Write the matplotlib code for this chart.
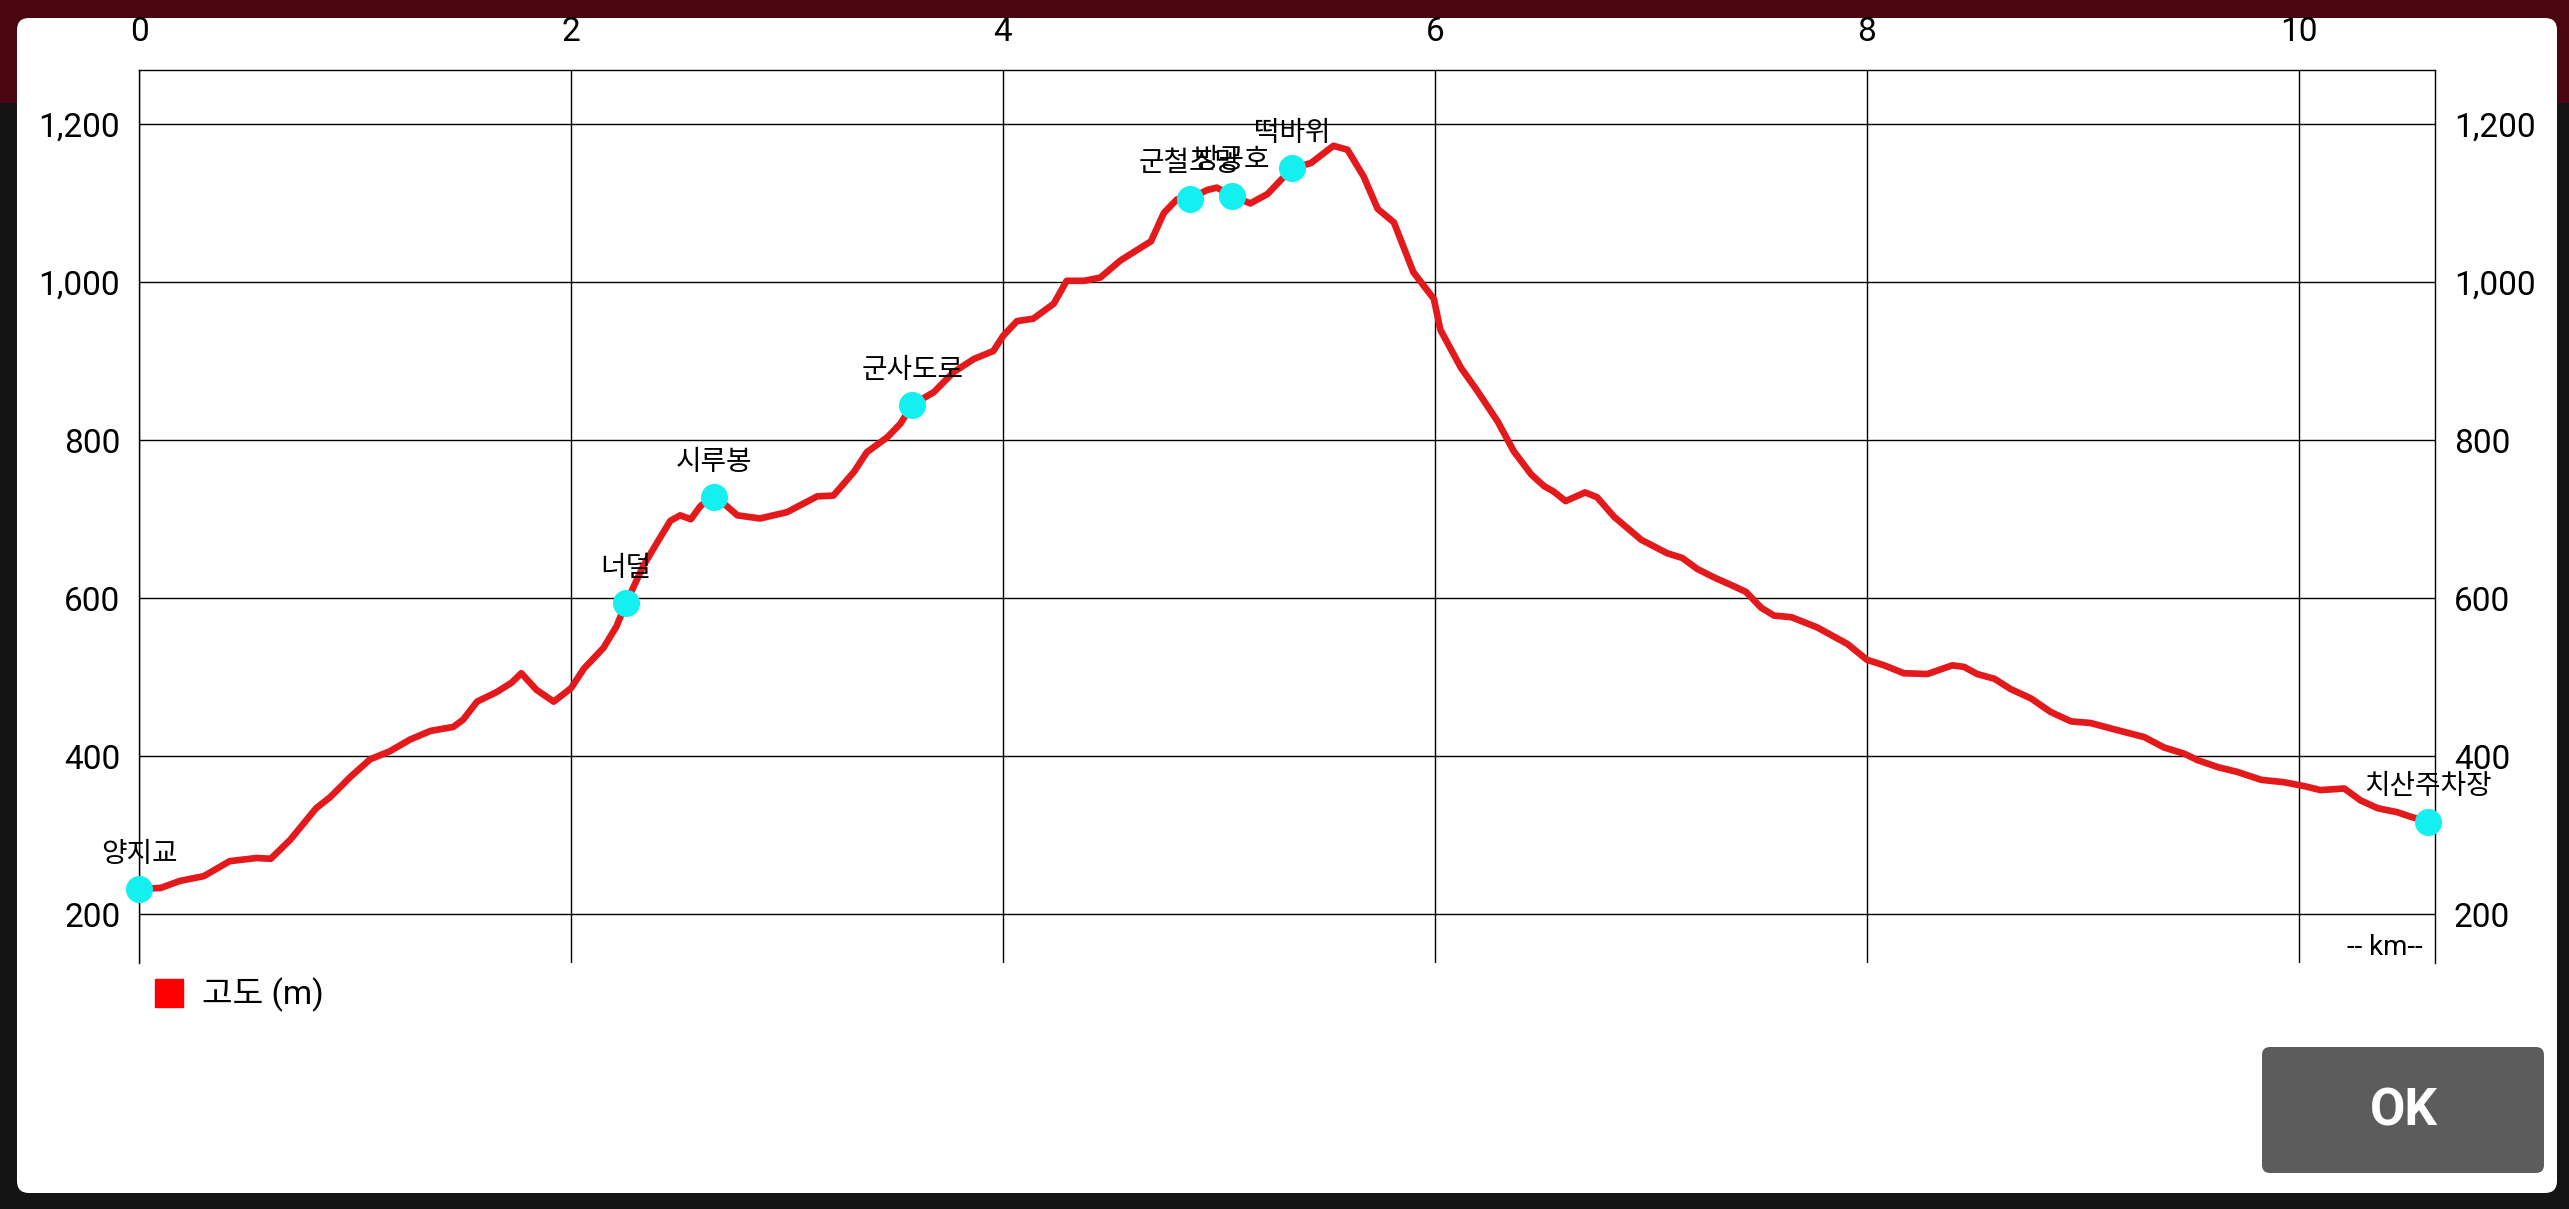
import matplotlib.pyplot as plt
from matplotlib.patches import FancyBboxPatch, Rectangle
from matplotlib.lines import Line2D
from matplotlib.transforms import IdentityTransform
from matplotlib.ticker import FuncFormatter

# elevation profile (distance in km, elevation in m)
km = [0, 0.10, 0.19, 0.30, 0.42, 0.545, 0.61, 0.70, 0.82, 0.885,
      0.98, 1.07, 1.16, 1.255, 1.35, 1.455, 1.50, 1.565, 1.655, 1.725,
      1.77, 1.84, 1.92, 2.00, 2.06, 2.15, 2.21, 2.255, 2.335, 2.40,
      2.46, 2.505, 2.555, 2.60, 2.66, 2.72, 2.77, 2.875, 3.00, 3.14,
      3.215, 3.31, 3.37, 3.465, 3.525, 3.58, 3.68, 3.77, 3.865, 3.955,
      4.00, 4.065, 4.14, 4.235, 4.295, 4.375, 4.45, 4.545, 4.685, 4.745,
      4.805, 4.865, 4.945, 4.99, 5.06, 5.145, 5.225, 5.34, 5.425, 5.53,
      5.595, 5.67, 5.735, 5.81, 5.90, 5.995, 6.025, 6.12, 6.195, 6.29,
      6.365, 6.445, 6.505, 6.55, 6.605, 6.695, 6.75, 6.83, 6.955, 7.075,
      7.145, 7.215, 7.295, 7.385, 7.44, 7.51, 7.57, 7.65, 7.77, 7.85,
      7.91, 8.00, 8.08, 8.17, 8.28, 8.395, 8.45, 8.51, 8.59, 8.665,
      8.76, 8.85, 8.945, 9.035, 9.13, 9.285, 9.375, 9.47, 9.53, 9.625,
      9.715, 9.825, 9.93, 10.025, 10.10, 10.21, 10.285, 10.365, 10.455, 10.52,
      10.597]
elev = [232, 233, 242, 248, 267, 271, 270, 294, 334, 348,
        374, 396, 406, 421, 432, 437, 446, 469, 481, 493,
        505, 484, 469, 486, 511, 537, 564, 594, 641, 671,
        698, 705, 700, 717, 728, 717, 705, 701, 709, 729,
        730, 760, 785, 804, 821, 845, 861, 886, 903, 913,
        932, 951, 954, 973, 1002, 1002, 1006, 1028, 1052, 1088,
        1105, 1106, 1117, 1120, 1110, 1100, 1112, 1145, 1151, 1173,
        1168, 1134, 1093, 1076, 1013, 979, 940, 892, 863, 824,
        786, 757, 742, 735, 723, 734, 728, 703, 674, 657,
        651, 637, 626, 615, 608, 588, 578, 576, 563, 551,
        542, 522, 515, 505, 504, 515, 513, 504, 498, 485,
        473, 456, 444, 442, 435, 424, 411, 403, 395, 386,
        380, 370, 367, 362, 357, 359, 344, 334, 329, 323,
        317]

# waypoints
wp_names = ['양지교', '너덜', '시루봉', '군사도로', '군철조망', '방공호', '떡바위', '치산주차장']
wp_km = [0, 2.255, 2.66, 3.58, 4.865, 5.06, 5.34, 10.597]
wp_elev = [232, 594, 728, 845, 1106, 1110, 1145, 317]

x_ticks = [0, 2, 4, 6, 8, 10]
y_ticks = [200, 400, 600, 800, 1000, 1200]

plt.rcParams['font.family'] = ['Roboto', 'Noto Sans CJK KR', 'DejaVu Sans']

W, H = 2569, 1209
fig = plt.figure(figsize=(W / 100, H / 100), dpi=100)
fig.patch.set_facecolor('#141414')
pix = IdentityTransform()


def box(x0, y0, x1, y1, color, r=0, z=-2):
    # rectangle in image pixel coords (y down)
    p = FancyBboxPatch((x0, H - y1), x1 - x0, y1 - y0,
                       boxstyle=f'round,pad=0,rounding_size={r}',
                       fc=color, ec='none', transform=pix, zorder=z)
    fig.add_artist(p)


# app background and dialog
fig.add_artist(Rectangle((0, H - 103), W, 103, fc='#4b0510', ec='none',
                         transform=pix, zorder=-3))
box(17, 18, 2557, 1193, 'white', r=12)

ax = fig.add_axes([139 / W, 1 - 963 / H, 2296 / W, 893 / H])
ax.plot(km, elev, color='#e3191c', lw=4.8, solid_joinstyle='round',
        solid_capstyle='round', zorder=3)
ax.plot(wp_km, wp_elev, 'o', ms=19.5, color='#14f0f0', mec='none',
        zorder=4, clip_on=False)
for name, x, y in zip(wp_names, wp_km, wp_elev):
    ax.annotate(name, (x, y), xytext=(0, 25), textcoords='offset points',
                ha='center', va='center', fontsize=20, zorder=5,
                annotation_clip=False)

ax.set_xlim(0, 10.63)
ax.set_ylim(138, 1269)
ax.set_xticks(x_ticks)
ax.set_yticks(y_ticks)
ax.yaxis.set_major_formatter(FuncFormatter(lambda v, p: f'{int(v):,}'))
ax.tick_params(axis='x', top=True, bottom=False, labeltop=True,
               labelbottom=False, length=0, pad=15.5, labelsize=24)
ax.tick_params(axis='y', left=True, right=True, labelleft=True,
               labelright=True, length=0, pad=13.5, labelsize=24)
ax.grid(True, color='black', lw=1.0)
ax.set_axisbelow(True)
for side in ['top', 'left', 'right']:
    ax.spines[side].set_color('black')
    ax.spines[side].set_linewidth(1.0)
ax.spines['bottom'].set_visible(False)

ax.text(0.9948, 0.0168, '-- km--', transform=ax.transAxes, ha='right',
        va='center', fontsize=20)

ax.legend(handles=[Line2D([], [], marker='s', ls='none', color='#ff0000', ms=20)],
          labels=['고도 (m)'], loc='center left',
          bbox_to_anchor=(154 / W, 1 - 995 / H), bbox_transform=fig.transFigure,
          frameon=False, borderpad=0, borderaxespad=0, handlelength=0.9,
          handletextpad=0.55, fontsize=24)

# OK button
box(2262, 1047, 2544, 1173, '#5c5c5d', r=8, z=1)
fig.text(2404, H - 1112, 'OK', transform=pix, ha='center', va='center',
         color='white', fontsize=37, fontweight='bold', zorder=2)

fig.savefig('out.png', dpi=100, facecolor=fig.get_facecolor())
